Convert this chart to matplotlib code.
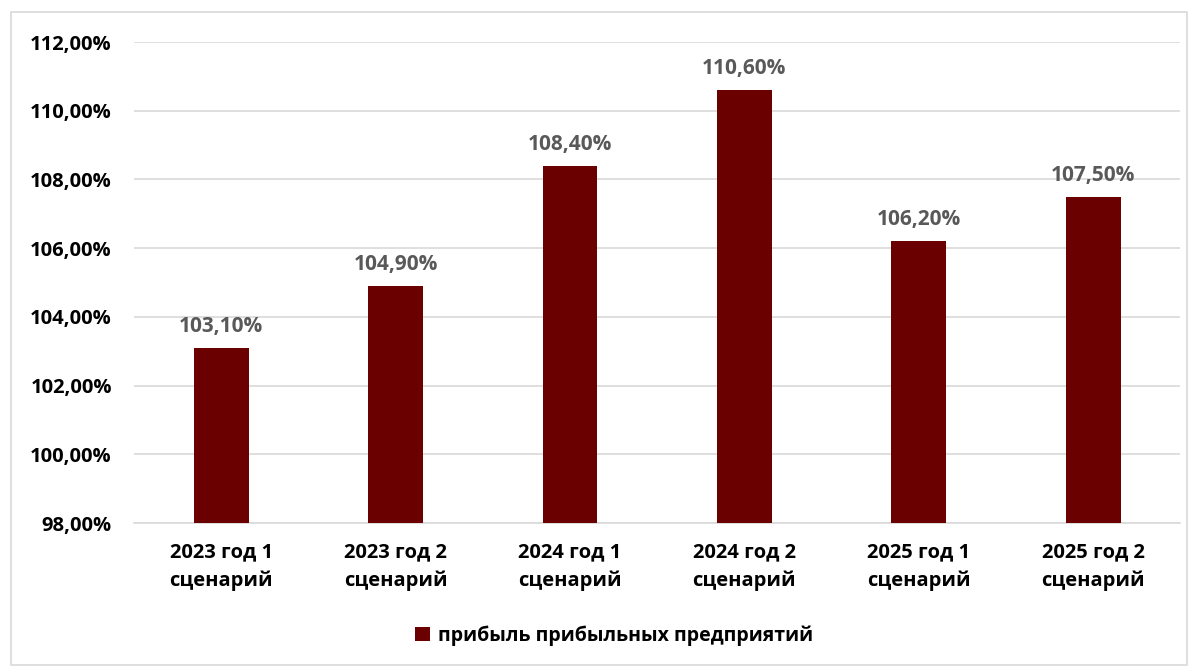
import matplotlib.pyplot as plt
from matplotlib.patches import Rectangle
from matplotlib.ticker import FuncFormatter

plt.rcParams['font.family'] = ['Open Sans', 'DejaVu Sans']

categories = ['2023 год 1\nсценарий', '2023 год 2\nсценарий', '2024 год 1\nсценарий',
              '2024 год 2\nсценарий', '2025 год 1\nсценарий', '2025 год 2\nсценарий']
values = [103.1, 104.9, 108.4, 110.6, 106.2, 107.5]
series_name = 'прибыль прибыльных предприятий'

fig = plt.figure(figsize=(11.97, 6.69), dpi=100)
ax = fig.add_axes([0.112, 0.2182, 0.874, 0.719])

# рамка вокруг диаграммы
fig.patches.append(Rectangle((0.009, 0.006), 0.983, 0.976, transform=fig.transFigure,
                             fill=False, edgecolor='#D9D9D9', linewidth=1.2))

bars = ax.bar(range(len(values)), values, width=0.315, color='#6B0000', label=series_name, zorder=3)

ax.set_ylim(98, 112)
ax.set_xlim(-0.5, len(values) - 0.5)
ax.set_yticks(range(98, 113, 2))
ax.yaxis.set_major_formatter(FuncFormatter(lambda v, p: f'{v:.2f}%'.replace('.', ',')))
ax.set_xticks(range(len(values)))
ax.set_xticklabels(categories, linespacing=1.5)
ax.grid(axis='y', color='#D9D9D9', linewidth=1.2, zorder=0)

for s in ['top', 'right', 'left']:
    ax.spines[s].set_visible(False)
ax.spines['bottom'].set_color('#D9D9D9')
ax.spines['bottom'].set_linewidth(1.2)
ax.tick_params(length=0)
ax.tick_params(axis='y', pad=16, labelsize=14.5)
ax.tick_params(axis='x', pad=14, labelsize=14.5)
for t in ax.get_xticklabels() + ax.get_yticklabels():
    t.set_fontweight('bold')

# подписи значений
for b, v in zip(bars, values):
    ax.annotate(f'{v:.2f}%'.replace('.', ','), (b.get_x() + b.get_width() / 2, v),
                xytext=(0, 8), textcoords='offset points', ha='center', va='bottom',
                fontsize=15, fontweight='bold', color='#595959')

leg = fig.legend(loc='center', bbox_to_anchor=(0.513, 0.05), frameon=False,
                 prop={'size': 14, 'weight': 'bold'}, handlelength=0.75, handleheight=0.75,
                 handletextpad=0.4)

fig.savefig('out.png', dpi=100)
